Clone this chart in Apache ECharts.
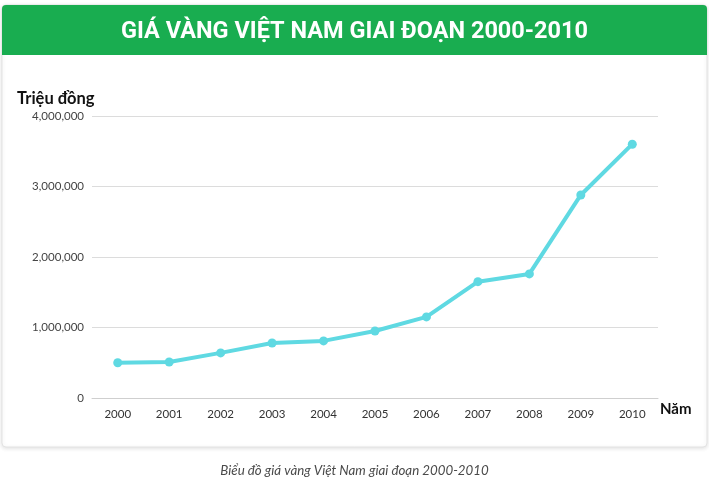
<!DOCTYPE html>
<html>
<head>
<meta charset="utf-8">
<script src="https://cdn.jsdelivr.net/npm/echarts@6/dist/echarts.min.js"></script>
<style>
  html, body { margin: 0; padding: 0; background: #ffffff; }
  #chart { width: 709px; height: 480px; }
</style>
</head>
<body>
<div id="chart"></div>
<script>
// Données du graphique
const years = [ '2000', '2001', '2002', '2003', '2004', '2005', '2006', '2007', '2008', '2009', '2010' ];
const goldPrice = [ 500000, 510000, 640000, 780000, 810000, 950000, 1150000, 1650000, 1760000, 2880000, 3600000 ];
const yTicks = { min: 0, max: 4000000, interval: 1000000 };

const chart = echarts.init( document.getElementById( 'chart' ) );

chart.setOption( {
  backgroundColor: '#ffffff',
  animation: false,
  graphic: [
    { // carte blanche avec ombre
      type: 'rect', z: -10,
      shape: { x: 2, y: 5, width: 705, height: 442, r: 4 },
      style: { fill: '#ffffff', stroke: '#e3e3e3', lineWidth: 1, shadowBlur: 4, shadowColor: 'rgba(0,0,0,0.12)', shadowOffsetY: 1 }
    },
    { // bandeau vert du titre
      type: 'rect', z: -9,
      shape: { x: 2, y: 5, width: 705, height: 50, r: [ 4, 4, 0, 0 ] },
      style: { fill: '#19ad50' }
    }
  ],
  title: [
    {
      text: 'GIÁ VÀNG VIỆT NAM GIAI ĐOẠN 2000-2010',
      left: 'center', top: 15,
      textStyle: { color: '#ffffff', fontFamily: 'Roboto', fontWeight: 'bold', fontSize: 23.5 }
    },
    {
      text: 'Triệu đồng',
      left: 12, top: 85,
      textStyle: { color: '#111111', fontFamily: 'Lato', fontWeight: 'bold', fontSize: 16.5 }
    },
    {
      text: 'Biểu đồ giá vàng Việt Nam giai đoạn 2000-2010',
      left: 'center', top: 459,
      textStyle: { color: '#4a4a4a', fontFamily: 'Lato', fontStyle: 'italic', fontWeight: 'normal', fontSize: 13.3 }
    }
  ],
  grid: { left: 92, right: 51, top: 116, bottom: 82 },
  xAxis: {
    type: 'category',
    data: years,
    boundaryGap: true,
    name: 'Năm',
    nameLocation: 'end',
    nameGap: 2,
    nameTextStyle: { color: '#111111', fontFamily: 'Lato', fontWeight: 'bold', fontSize: 15, verticalAlign: 'top', padding: [ 4, 0, 0, 0 ] },
    axisLine: { lineStyle: { color: '#cfcfcf', width: 1 } },
    axisTick: { show: false },
    axisLabel: { color: '#333333', fontFamily: 'Lato', fontSize: 11.5, margin: 10 }
  },
  yAxis: {
    type: 'value',
    min: yTicks.min, max: yTicks.max, interval: yTicks.interval,
    axisLine: { show: false },
    axisTick: { show: false },
    splitLine: { lineStyle: { color: '#dcdcdc', width: 1 } },
    axisLabel: {
      color: '#444444', fontFamily: 'Lato', fontSize: 11.5, margin: 8,
      formatter: ( v ) => v.toLocaleString( 'en-US' )
    }
  },
  series: [
    {
      type: 'line',
      data: goldPrice,
      symbol: 'circle',
      symbolSize: 9,
      lineStyle: { color: '#5fd9e2', width: 4 },
      itemStyle: { color: '#5fd9e2' }
    }
  ]
} );
</script>
</body>
</html>
